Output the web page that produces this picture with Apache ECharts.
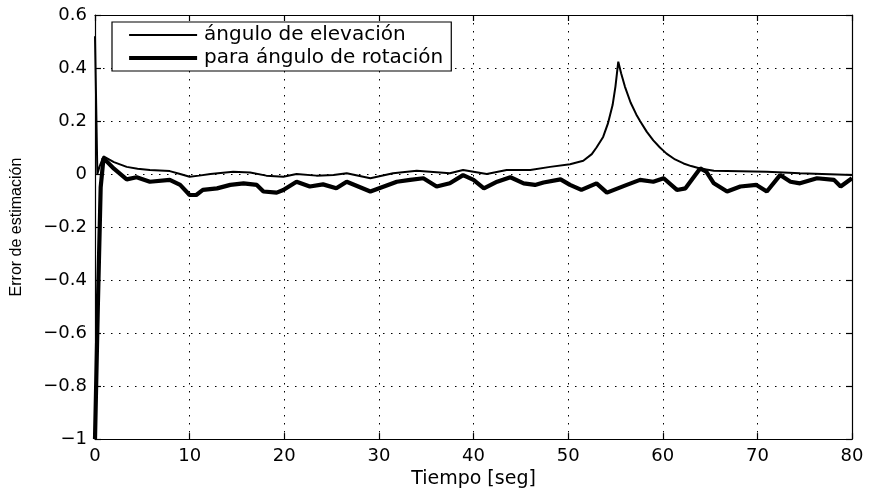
<!DOCTYPE html>
<html>
<head>
<meta charset="utf-8">
<script src="https://cdn.jsdelivr.net/npm/echarts@6/dist/echarts.min.js"></script>
<style>
html,body{margin:0;padding:0;background:#fff;}
#chart{width:869px;height:494px;}
</style>
</head>
<body>
<div id="chart"></div>
<script>
// ---- data ----
const seriesNames = ['ángulo de elevación', 'para ángulo de rotación'];
const xTicks = [0, 10, 20, 30, 40, 50, 60, 70, 80];
const yTicks = [-1, -0.8, -0.6, -0.4, -0.2, 0, 0.2, 0.4, 0.6];

const elevT = [0, 0.25, 0.5, 0.9, 2, 3.35, 4.5, 5.8, 7.9, 9, 10, 11, 12.2, 14.6, 16.4, 18.1, 19.9, 21.3, 23.4, 25.2, 26.6, 29.1, 31.5, 34, 35.4, 37.5, 38.9, 41.4, 43.5, 46, 48.1, 50.2, 51.6, 52.5, 53, 53.7, 54.2, 54.7, 55.0, 55.3, 55.6, 56.0, 56.6, 57.2, 57.6, 58.3, 59, 59.7, 60.4, 61.3, 62.2, 63, 63.95, 65.4, 71, 74.5, 80];
const elevV = [0.52, 0.0, 0.03, 0.067, 0.045, 0.027, 0.02, 0.015, 0.011, 0.0, -0.01, -0.006, 0, 0.009, 0.006, -0.006, -0.01, 0, -0.006, -0.004, 0.003, -0.016, 0.003, 0.012, 0.009, 0.003, 0.015, 0, 0.015, 0.015, 0.027, 0.037, 0.05, 0.075, 0.1, 0.14, 0.19, 0.26, 0.33, 0.424, 0.38, 0.33, 0.27, 0.225, 0.2, 0.16, 0.127, 0.1, 0.077, 0.055, 0.04, 0.03, 0.021, 0.012, 0.009, 0.003, -0.004];

const rotT = [0, 0.3, 0.6, 0.9, 2, 3.35, 4.4, 5.8, 7.9, 9.0, 10.0, 10.7, 11.4, 12.9, 14.3, 15.7, 17.1, 17.8, 19.2, 19.9, 21.3, 22.7, 24.1, 25.5, 26.6, 29.1, 31.9, 33.3, 34.7, 36.1, 37.5, 38.9, 40, 41.1, 42.5, 43.9, 45.3, 46.5, 47.4, 49.2, 50.2, 51.4, 53, 54.1, 56.2, 57.6, 59, 60.1, 61.5, 62.4, 63.95, 64.6, 65.4, 66.8, 68.2, 69.9, 71, 72.4, 73.5, 74.5, 76.3, 78.1, 78.8, 80];
const rotV = [-1.0, -0.5, -0.05, 0.06, 0.02, -0.02, -0.012, -0.029, -0.022, -0.041, -0.079, -0.079, -0.06, -0.054, -0.041, -0.035, -0.041, -0.066, -0.07, -0.06, -0.029, -0.047, -0.039, -0.054, -0.029, -0.066, -0.029, -0.022, -0.016, -0.047, -0.035, -0.004, -0.022, -0.054, -0.029, -0.012, -0.035, -0.041, -0.032, -0.02, -0.041, -0.06, -0.035, -0.07, -0.041, -0.022, -0.029, -0.016, -0.06, -0.054, 0.021, 0.009, -0.035, -0.066, -0.047, -0.041, -0.066, -0.004, -0.029, -0.035, -0.016, -0.022, -0.047, -0.016];

const xTitle = 'Tiempo [seg]';
const yTitle = 'Error de estimación';

// ---- chart ----
const zip = (a, b) => a.map((t, i) => [t, b[i]]);
const fmtY = v => {
  const r = Math.round(v * 10) / 10;
  if (r === 0) return '0';
  let s = Number.isInteger(r) ? String(r) : r.toFixed(1);
  return s.replace('-', '\u2212');
};
const tickFont = {color: '#000', fontFamily: 'DejaVu Sans', fontSize: 18};
const gridLine = {show: true, lineStyle: {color: '#000', width: 1, type: [1.5, 6.5]}};
const axisLine = {show: true, onZero: false, lineStyle: {color: '#000', width: 1.2}};
const tick = {show: true, inside: true, length: 6, lineStyle: {color: '#000', width: 1.2}};
const lineWidths = [2, 4.2];

const chart = echarts.init(document.getElementById('chart'), null, {renderer: 'canvas'});
chart.setOption({
  backgroundColor: '#fff',
  animation: false,
  grid: {left: 95, right: 17, top: 15, bottom: 51, containLabel: false},
  legend: {
    data: seriesNames.map((n, i) => ({name: n, lineStyle: {width: lineWidths[i], color: '#000'}})),
    orient: 'vertical',
    left: 112, top: 22,
    padding: [3, 8, 3, 15],
    itemGap: 3,
    itemWidth: 68, itemHeight: 14,
    backgroundColor: '#fff',
    borderColor: '#000', borderWidth: 1.2,
    itemStyle: {opacity: 0},
    textStyle: {color: '#000', fontFamily: 'DejaVu Sans', fontSize: 20, padding: [0, 0, 0, 2]}
  },
  xAxis: [{
    type: 'value', min: xTicks[0], max: xTicks[xTicks.length - 1], interval: 10,
    axisLine: axisLine, axisTick: tick, splitLine: gridLine,
    axisLabel: Object.assign({margin: 8}, tickFont),
    name: xTitle, nameLocation: 'middle', nameGap: 27,
    nameTextStyle: {color: '#000', fontFamily: 'DejaVu Sans', fontSize: 19}
  }, {
    type: 'value', position: 'top', min: xTicks[0], max: xTicks[xTicks.length - 1], interval: 10,
    axisLine: axisLine, axisTick: tick, splitLine: {show: false}, axisLabel: {show: false}
  }],
  yAxis: [{
    type: 'value', min: yTicks[0], max: yTicks[yTicks.length - 1], interval: 0.2,
    axisLine: axisLine, axisTick: tick, splitLine: gridLine,
    axisLabel: Object.assign({margin: 8, formatter: fmtY}, tickFont),
    name: yTitle, nameLocation: 'middle', nameGap: 70, nameRotate: 90,
    nameTextStyle: {color: '#000', fontFamily: 'Liberation Sans', fontSize: 16}
  }, {
    type: 'value', position: 'right', min: yTicks[0], max: yTicks[yTicks.length - 1], interval: 0.2,
    axisLine: axisLine, axisTick: tick, splitLine: {show: false}, axisLabel: {show: false}
  }],
  series: [{
    name: seriesNames[0], type: 'line', data: zip(elevT, elevV),
    showSymbol: false, symbol: 'none', z: 3,
    lineStyle: {color: '#000', width: lineWidths[0]}, itemStyle: {color: '#000'}
  }, {
    name: seriesNames[1], type: 'line', data: zip(rotT, rotV),
    showSymbol: false, symbol: 'none', z: 2,
    lineStyle: {color: '#000', width: lineWidths[1]}, itemStyle: {color: '#000'}
  }]
});
</script>
</body>
</html>
